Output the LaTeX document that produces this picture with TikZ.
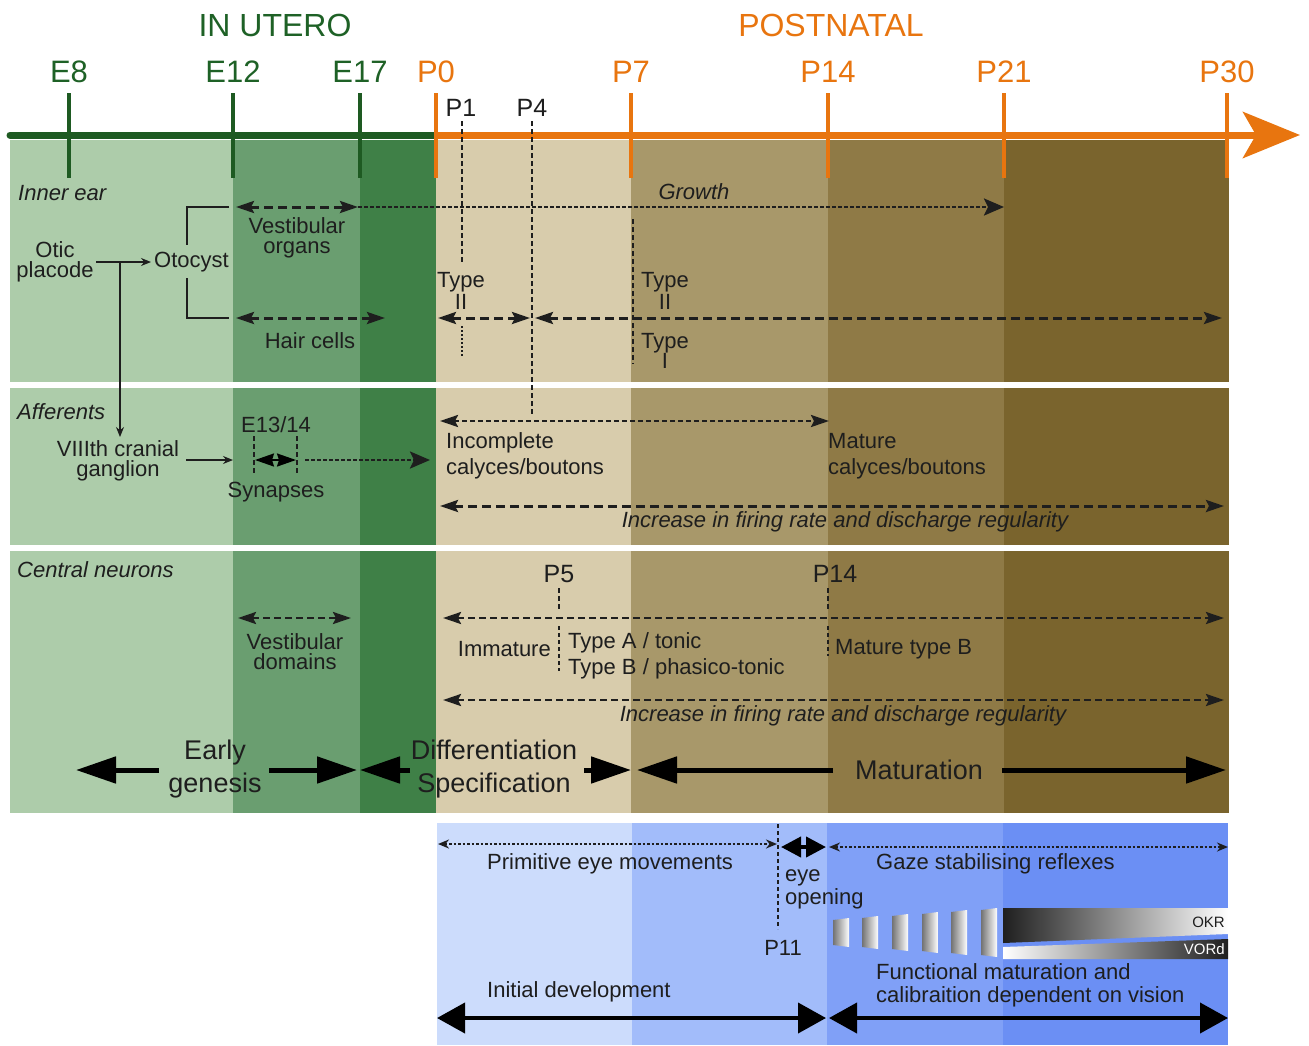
\documentclass[tikz,border=0pt]{standalone}
\usepackage{fontspec}
\setmainfont{Liberation Sans}
\usetikzlibrary{arrows.meta}
\definecolor{gA}{HTML}{ADCCAA}
\definecolor{gB}{HTML}{6A9E70}
\definecolor{gC}{HTML}{3F8047}
\definecolor{bA}{HTML}{D8CCAC}
\definecolor{bB}{HTML}{A8986A}
\definecolor{bC}{HTML}{8F7A46}
\definecolor{bD}{HTML}{7A642D}
\definecolor{uA}{HTML}{CCDCFC}
\definecolor{uB}{HTML}{A2BCFA}
\definecolor{uC}{HTML}{80A0F7}
\definecolor{uD}{HTML}{6B8FF4}
\definecolor{axg}{HTML}{1E5A22}
\definecolor{txg}{HTML}{1E6126}
\definecolor{axo}{HTML}{E8750F}
\definecolor{txk}{HTML}{1E1E1E}
\newcommand\myfs[2]{\fontsize{#1}{#2}\selectfont}
\tikzset{hd/.tip={Stealth[length=18pt,width=12pt,inset=3pt]}}
\begin{document}
\begin{tikzpicture}[x=1pt,y=-1pt,
  lab/.style={inner sep=0pt, text=txk, font=\myfs{22}{26}},
  itlab/.style={lab, font=\itshape\myfs{22}{26}},
  two/.style={lab, align=center, font=\myfs{22}{20}},
  tick/.style={lab, font=\myfs{31}{34}},
  gtick/.style={draw=axg, line width=4.5pt},
  otick/.style={draw=axo, line width=4.5pt},
  thinarr/.style={draw=txk, line width=1.4pt, -{Stealth[length=10pt,width=8pt]}},
  thinln/.style={draw=txk, line width=1.4pt},
  dA/.style={draw=txk, line width=3pt, dash pattern=on 9pt off 5pt},
  dB/.style={draw=txk, line width=2.6pt, dash pattern=on 5pt off 3pt},
  dC/.style={draw=txk, line width=2.6pt, dash pattern=on 7pt off 4pt},
  dG/.style={draw=txk, line width=2.6pt, dash pattern=on 4pt off 2pt},
  dV/.style={draw=txk, line width=2.6pt, dash pattern=on 5pt off 3pt},
  dot/.style={draw=txk, line width=2.6pt, dash pattern=on 2.5pt off 2pt},
  big/.style={draw=black, line width=5pt, -{Triangle[length=40pt,width=26pt]}},
  bigb/.style={draw=black, line width=4pt, {Triangle[length=28pt,width=30pt]}-{Triangle[length=28pt,width=30pt]}},
]
\useasboundingbox (0,0) rectangle (1309,1045);
% ---------- background bands ----------
\foreach \ya/\yb in {140/382, 388/545, 551/813} {
  \fill[gA] (10,\ya) rectangle (233,\yb);
  \fill[gB] (233,\ya) rectangle (360,\yb);
  \fill[gC] (360,\ya) rectangle (436,\yb);
  \fill[bA] (436,\ya) rectangle (631,\yb);
  \fill[bB] (631,\ya) rectangle (828,\yb);
  \fill[bC] (828,\ya) rectangle (1004,\yb);
  \fill[bD] (1004,\ya) rectangle (1229,\yb);
}
\fill[uA] (437,823) rectangle (632,1045);
\fill[uB] (632,823) rectangle (827,1045);
\fill[uC] (827,823) rectangle (1003,1045);
\fill[uD] (1003,823) rectangle (1228,1045);
% ---------- time axis ----------
\coordinate (ax0) at (10,135);
\coordinate (axm) at (436,135);
\coordinate (ax1) at (1300,135);
\draw[axg, line width=7pt, line cap=round] (ax0) -- (axm);
\draw[axo, line width=7pt, -{Stealth[length=57pt,width=46pt,inset=13pt]}] (axm) -- (ax1);
\foreach \n/\x in {e8/69,e12/233,e17/360} {
  \coordinate (t\n a) at (\x,93); \coordinate (t\n b) at (\x,178);
  \draw[gtick] (t\n a) -- (t\n b);
}
\foreach \n/\x in {p0/436,p7/631,p14/828,p21/1004,p30/1227} {
  \coordinate (t\n a) at (\x,93); \coordinate (t\n b) at (\x,178);
  \draw[otick] (t\n a) -- (t\n b);
}
\node[tick, text=txg, font=\myfs{32}{36}] (inutero) at (275,25) {IN UTERO};
\node[tick, text=axo, font=\myfs{32}{36}] (postnatal) at (831,25) {POSTNATAL};
\node[tick, text=txg] (le8) at (69,72) {E8};
\node[tick, text=txg] (le12) at (233,72) {E12};
\node[tick, text=txg] (le17) at (360,72) {E17};
\node[tick, text=axo] (lp0) at (436,72) {P0};
\node[tick, text=axo] (lp7) at (631,72) {P7};
\node[tick, text=axo] (lp14) at (828,72) {P14};
\node[tick, text=axo] (lp21) at (1004,72) {P21};
\node[tick, text=axo] (lp30) at (1227,72) {P30};
\node[lab, font=\myfs{25}{28}] (lp1) at (461,108) {P1};
\node[lab, font=\myfs{25}{28}] (lp4) at (532,108) {P4};
% ---------- row 1: inner ear ----------
\node[itlab, anchor=west] (innerear) at (18,193) {Inner ear};
\node[two] (otic) at (55,262) {Otic\\placode};
\node[lab, anchor=west] (otocyst) at (154,262) {Otocyst};
\coordinate (oticR) at (96,262);
\coordinate (otoL) at (151,262);
\draw[thinarr] (oticR) -- (otoL);
\coordinate (br) at (120,262);
\coordinate (brE) at (120,437);
\draw[thinarr] (br) -- (brE);
\coordinate (bk1) at (229,207); \coordinate (bk2) at (187,245);
\coordinate (bk3) at (187,278); \coordinate (bk4) at (229,318);
\draw[thinln] (bk1) -| (bk2);
\draw[thinln] (bk3) |- (bk4);
\coordinate (vo1) at (236,207); \coordinate (vo2) at (358,207); \coordinate (gr2) at (1004,207);
\draw[dA, {hd}-{hd}] (vo1) -- (vo2);
\draw[dG, -{Stealth[length=20pt,width=17pt,inset=4pt]}] (vo2) -- (gr2);
\node[itlab] (growth) at (694,192) {Growth};
\node[two] (vestorg) at (297,238) {Vestibular\\organs};
\coordinate (hc1) at (236,318); \coordinate (hc2) at (385,318);
\draw[dA, {hd}-{hd}] (hc1) -- (hc2);
\node[lab] (haircells) at (310,341) {Hair cells};
% P1 / P4 / P7 markers
\coordinate (p1a) at (462,121); \coordinate (p1b) at (462,262);
\coordinate (p1c) at (462,326); \coordinate (p1d) at (462,357);
\draw[dV] (p1a) -- (p1b);
\draw[dot, line width=1.8pt, dash pattern=on 2pt off 2pt] (p1c) -- (p1d);
\coordinate (p4a) at (532,121); \coordinate (p4b) at (532,414);
\draw[dV] (p4a) -- (p4b);
\coordinate (p7a) at (633,219); \coordinate (p7b) at (633,364);
\draw[dV, line width=2.2pt] (p7a) -- (p7b);
\node[lab, align=center, font=\myfs{22}{22}] (ty2a) at (461,291) {Type\\II};
\node[lab, align=center, font=\myfs{22}{22}] (ty2b) at (665,291) {Type\\II};
\node[lab, align=center, font=\myfs{22}{20}] (ty1) at (665,351) {Type\\I};
\coordinate (ta1) at (438,318); \coordinate (ta2) at (530,318);
\coordinate (tb1) at (535,318); \coordinate (tb2) at (1222,318);
\draw[dA, {hd}-{hd}] (ta1) -- (ta2);
\draw[dA, {hd}-{hd}] (tb1) -- (tb2);
% ---------- row 2: afferents ----------
\node[itlab, anchor=west] (aff) at (17,412) {Afferents};
\node[two] (viii) at (118,461) {VIIIth cranial\\ganglion};
\coordinate (vr1) at (186,460); \coordinate (vr2) at (233,460);
\draw[thinarr] (vr1) -- (vr2);
\node[lab] (e1314) at (276,425) {E13/14};
\coordinate (s1a) at (254,436); \coordinate (s1b) at (254,473);
\coordinate (s2a) at (297,436); \coordinate (s2b) at (297,473);
\draw[dV, line width=2.2pt] (s1a) -- (s1b);
\draw[dV, line width=2.2pt] (s2a) -- (s2b);
\coordinate (sy1) at (255,460); \coordinate (sy2) at (296,460);
\draw[line width=2pt, {Stealth[length=19pt,width=13pt,inset=2pt]}-{Stealth[length=19pt,width=13pt,inset=2pt]}] (sy1) -- (sy2);
\coordinate (sd1) at (305,460); \coordinate (sd2) at (430,460);
\draw[dG, -{Stealth[length=20pt,width=17pt,inset=4pt]}] (sd1) -- (sd2);
\node[lab] (synapses) at (276,492) {Synapses};
\coordinate (ic1) at (440,421); \coordinate (ic2) at (829,421);
\draw[dB, {hd}-{hd}] (ic1) -- (ic2);
\node[lab, anchor=west, align=left] (incomplete) at (446,456) {Incomplete\\calyces/boutons};
\node[lab, anchor=west, align=left] (mature) at (828,456) {Mature\\calyces/boutons};
\coordinate (fr1) at (440,506); \coordinate (fr2) at (1224,506);
\draw[dA, {hd}-{hd}] (fr1) -- (fr2);
\node[itlab] (incr1) at (845,522) {Increase in firing rate and discharge regularity};
% ---------- row 3: central neurons ----------
\node[itlab, anchor=west] (central) at (17,570) {Central neurons};
\node[lab, font=\myfs{25}{28}] (lp5) at (559,574) {P5};
\node[lab, font=\myfs{25}{28}] (lp14b) at (835,574) {P14};
\coordinate (q5a) at (559,588); \coordinate (q5b) at (559,609);
\coordinate (q5c) at (559,626); \coordinate (q5d) at (559,671);
\draw[dV, line width=2.2pt] (q5a) -- (q5b);
\draw[dV, line width=2.2pt, dash pattern=on 4pt off 3pt] (q5c) -- (q5d);
\coordinate (q14a) at (828,588); \coordinate (q14b) at (828,610);
\coordinate (q14c) at (828,626); \coordinate (q14d) at (828,656);
\draw[dV, line width=2.2pt] (q14a) -- (q14b);
\draw[dV, line width=2.2pt, dash pattern=on 4pt off 3pt] (q14c) -- (q14d);
\coordinate (vd1) at (238,618); \coordinate (vd2) at (351,618);
\draw[dC, {hd}-{hd}] (vd1) -- (vd2);
\node[two] (vestdom) at (295,652) {Vestibular\\domains};
\coordinate (cn1) at (443,618); \coordinate (cn2) at (1224,618);
\draw[dC, {hd}-{hd}] (cn1) -- (cn2);
\node[lab, anchor=east] (immature) at (551,649) {Immature};
\node[lab, anchor=west, align=left] (typeab) at (568,656) {Type A / tonic\\Type B / phasico-tonic};
\node[lab, anchor=west] (maturetb) at (835,649) {Mature type B};
\coordinate (cf1) at (443,700); \coordinate (cf2) at (1224,700);
\draw[dC, {hd}-{hd}] (cf1) -- (cf2);
\node[itlab] (incr2) at (843,716) {Increase in firing rate and discharge regularity};
% ---------- phases ----------
\node[lab, align=center, font=\myfs{27}{33}] (early) at (215,769) {Early\\genesis};
\node[lab, align=center, font=\myfs{27}{33}] (diff) at (494,769) {Differentiation\\Specification};
\node[lab, font=\myfs{27}{30}] (matur) at (919,770) {Maturation};
\coordinate (ea1) at (159,770); \coordinate (ea0) at (76,770);
\coordinate (eb1) at (269,770); \coordinate (eb0) at (357,770);
\coordinate (da1) at (410,770); \coordinate (da0) at (360,770);
\coordinate (db1) at (584,770); \coordinate (db0) at (631,770);
\coordinate (ma1) at (833,770); \coordinate (ma0) at (637,770);
\coordinate (mb1) at (1002,770); \coordinate (mb0) at (1226,770);
\draw[big] (ea1) -- (ea0);
\draw[big] (eb1) -- (eb0);
\draw[big] (da1) -- (da0);
\draw[big] (db1) -- (db0);
\draw[big] (ma1) -- (ma0);
\draw[big] (mb1) -- (mb0);
% ---------- eye movements ----------
\coordinate (pe1) at (438,844); \coordinate (pe2) at (777,844);
\draw[dot, {Stealth[length=11pt,width=9pt]}-{Stealth[length=11pt,width=9pt]}] (pe1) -- (pe2);
\node[lab, anchor=west] (primitive) at (487,864) {Primitive eye movements};
\coordinate (p11a) at (778,824); \coordinate (p11b) at (778,929);
\draw[dV, line width=2.2pt, dash pattern=on 4pt off 3pt] (p11a) -- (p11b);
\node[lab, anchor=west, align=left, font=\myfs{22}{23}] (eyeopen) at (785,889) {eye\\opening};
\node[lab] (lp11) at (783,948) {P11};
\coordinate (eo1) at (781,847); \coordinate (eo2) at (826,847);
\draw[line width=4pt, {Triangle[length=20pt,width=20pt]}-{Triangle[length=20pt,width=20pt]}] (eo1) -- (eo2);
\coordinate (gz1) at (829,847); \coordinate (gz2) at (1228,847);
\draw[dot, {Stealth[length=11pt,width=9pt]}-{Stealth[length=11pt,width=9pt]}] (gz1) -- (gz2);
\node[lab, anchor=west] (gaze) at (876,864) {Gaze stabilising reflexes};
% gradient bars
\foreach \xa/\ya/\yb in {833/918/947, 862/916/949, 892/914/951, 922/912/953, 951/910/955, 981/908/957} {
  \shade[left color=black!55, right color=white] (\xa,\ya+2) -- (\xa+16,\ya) -- (\xa+16,\yb) -- (\xa,\yb-2) -- cycle;
}
\shade[left color=black!88, right color=white] (1003,908) -- (1228,908) -- (1228,934) -- (1003,943) -- cycle;
\shade[left color=white, right color=black!88] (1003,947) -- (1228,939) -- (1228,959) -- (1003,959) -- cycle;
\node[lab, anchor=east, font=\myfs{15}{17}] (okr) at (1225,922) {OKR};
\node[lab, anchor=east, font=\myfs{15}{17}, text=white] (vord) at (1225,949) {VORd};
\node[lab, anchor=west, align=left, font=\myfs{22}{23}] (functional) at (876,985) {Functional maturation and\\calibraition dependent on vision};
\node[lab, anchor=west] (initial) at (487,992) {Initial development};
\coordinate (id1) at (437,1018); \coordinate (id2) at (826,1018);
\coordinate (fm1) at (829,1018); \coordinate (fm2) at (1228,1018);
\draw[bigb] (id1) -- (id2);
\draw[bigb] (fm1) -- (fm2);
\end{tikzpicture}
\end{document}
